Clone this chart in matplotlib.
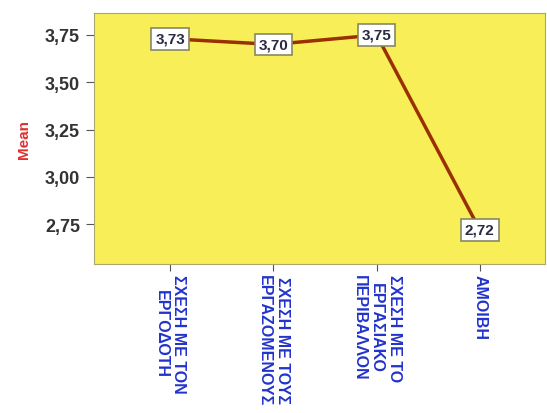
import matplotlib
matplotlib.use("Agg")
import matplotlib.pyplot as plt

plt.rcParams["font.family"] = ["Liberation Sans", "DejaVu Sans"]

categories = ["ΣΧΕΣΗ ΜΕ ΤΟΝ\nΕΡΓΟΔΟΤΗ", "ΣΧΕΣΗ ΜΕ ΤΟΥΣ\nΕΡΓΑΖΟΜΕΝΟΥΣ",
              "ΣΧΕΣΗ ΜΕ ΤΟ\nΕΡΓΑΣΙΑΚΟ\nΠΕΡΙΒΑΛΛΟΝ", "ΑΜΟΙΒΗ"]
means = [3.73, 3.70, 3.75, 2.72]
yticks = [2.75, 3.00, 3.25, 3.50, 3.75]

fig = plt.figure(figsize=(5.47, 4.14), dpi=100)
ax = fig.add_axes([94/547, 1-265/414, (545-94)/547, (265-14)/414])
ax.set_facecolor("#f8ee58")

x = list(range(1, len(means)+1))
ax.plot(x, means, color="#9a3000", lw=2.5, solid_capstyle="round")
for xi, v in zip(x, means):
	ax.text(xi, v, ("%.2f" % v).replace(".", ","), ha="center", va="center",
		fontsize=11, fontweight="bold", color="#2a2a44",
		bbox=dict(boxstyle="square,pad=0.25", fc="white", ec="#888866", lw=1.2))

ax.set_xlim(1-76/103, 4+65/103)
ax.set_ylim(2.54, 3.866)
ax.set_yticks(yticks)
ax.set_yticklabels([("%.2f" % t).replace(".", ",") for t in yticks],
	fontsize=13, fontweight="bold", color="#333333")
ax.set_xticks(x)
ax.set_xticklabels(categories, rotation=270, fontsize=11.5, fontweight="bold",
	color="#2233cc", ha="center", va="top", linespacing=1.2)
ax.tick_params(axis="y", length=6, color="#555555", pad=4)
ax.tick_params(axis="x", length=5, color="#555555", pad=2)
ax.set_ylabel("Mean", color="#e03030", fontsize=11, fontweight="bold", labelpad=10)
for s in ax.spines.values():
	s.set_color("#aaa870")

fig.savefig("out.png", dpi=100)
